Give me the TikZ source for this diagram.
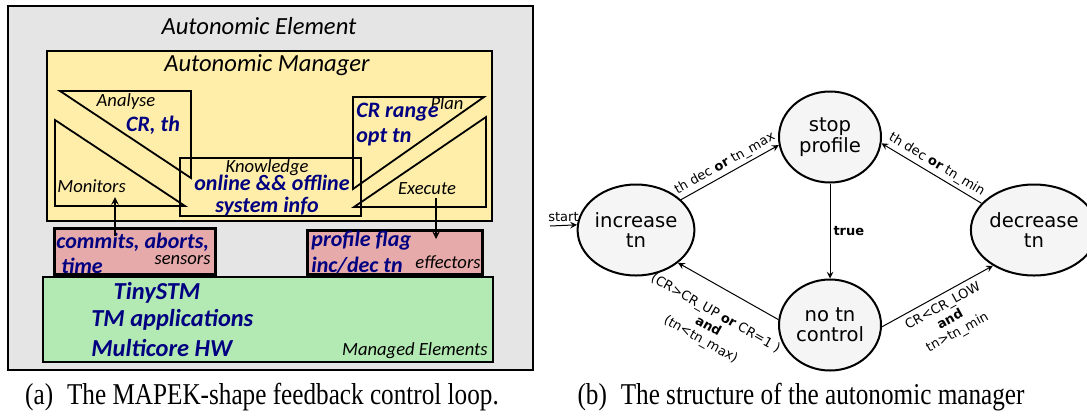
\documentclass[tikz,border=0pt]{standalone}
\usepackage{fontspec}
\setmainfont{Liberation Serif}
\newfontfamily\lfont{Carlito}
\newfontfamily\rfont{DejaVu Sans}
\usetikzlibrary{shapes.geometric,positioning}
\definecolor{elemgray}{HTML}{E5E5E5}
\definecolor{mgryellow}{HTML}{FFEEAA}
\definecolor{sensepink}{HTML}{E6AAAA}
\definecolor{mngdgreen}{HTML}{B3EAB3}
\definecolor{infoblue}{HTML}{000080}
\definecolor{stategray}{HTML}{F5F5F5}

\begin{document}
\begin{tikzpicture}[x=0.5pt,y=-0.5pt,>=stealth,
  box/.style={draw,line width=1pt},
  tri/.style={draw,line width=0.9pt},
  info/.style={font=\lfont\fontsize{11}{13}\selectfont\bfseries\itshape,text=infoblue,inner sep=0pt},
  big info/.style={info,font=\lfont\fontsize{12.2}{14}\selectfont\bfseries\itshape},
  tag/.style={font=\lfont\fontsize{9.3}{11}\selectfont\itshape,inner sep=0pt},
  title/.style={font=\lfont\fontsize{12.3}{14}\selectfont\itshape,inner sep=0pt},
  main node/.style={ellipse,draw,line width=1pt,fill=stategray,minimum width=51pt,minimum height=45.5pt,inner sep=0pt,align=center,font=\rfont\fontsize{9.8}{10.2}\selectfont},
  cond/.style={font=\rfont\fontsize{6.5}{7.5}\selectfont,align=center,inner sep=1.5pt},
  caption/.style={font=\fontsize{12.6}{14}\selectfont,inner sep=0pt}]
\useasboundingbox (0,0) rectangle (1087,419);

% (a) MAPEK loop
\draw[box,fill=elemgray] (8,6) rectangle (533,370);
\node[title] (ae) at (259,26) {Autonomic Element};
\draw[box,fill=mgryellow] (47,51) rectangle (492,221);
\node[title] (am) at (267,65) {Autonomic Manager};
\draw[line width=0.6pt] (180,158) rectangle (361,216);
\draw[tri] (60,91) -- (191,91) -- (191,178) -- cycle;
\draw[tri] (55,120) -- (55,206) -- (185,206) -- cycle;
\draw[tri] (484,97) -- (353,97) -- (353,189) -- cycle;
\draw[tri] (486,117) -- (486,207) -- (354,207) -- cycle;
\node[tag] (an) at (126,102) {Analyse};
\node[info] (anv) at (153,125) {CR, th};
\node[tag] (pl) at (447,103) {Plan};
\node[info,anchor=west] (plv1) at (356,112) {CR range};
\node[info,anchor=west] (plv2) at (356,137) {opt tn};
\node[tag] (kn) at (267,168) {Knowledge};
\node[info] (knv1) at (272,183) {online \&\& offline};
\node[info] (knv2) at (267,207) {system info};
\node[tag,anchor=west] (mo) at (57,186) {Monitors};
\node[tag] (ex) at (427,189) {Execute};

\draw[box,line width=1.5pt,fill=sensepink] (54,228) rectangle (215,274);
\node[info,anchor=west] (sev1) at (56,242) {commits, aborts,};
\node[info,anchor=west] (sev2) at (61,266) {time};
\node[tag,anchor=east] (se) at (211,260) {sensors};
\draw[box,line width=1.5pt,fill=sensepink] (307,230) rectangle (482,274);
\node[info,anchor=west] (efv1) at (311,241) {profile flag};
\node[info,anchor=west] (efv2) at (311,265) {inc/dec tn};
\node[tag,anchor=east] (ef) at (481,262) {effectors};

\coordinate (mo in) at (115,197);
\coordinate (se out) at (115,236);
\coordinate (ex out) at (436,198);
\coordinate (ef in) at (436,239);
\draw[->,line width=0.7pt] (se out) -- (mo in);
\draw[->,line width=0.7pt] (ex out) -- (ef in);

\draw[box,fill=mngdgreen] (43,277) rectangle (493,362);
\node[big info] (me1) at (157,293) {TinySTM};
\node[big info,anchor=west] (me2) at (91,320) {TM applications};
\node[big info,anchor=west] (me3) at (91,348) {Multicore HW};
\node[tag,anchor=east] (me) at (488,351) {Managed Elements};

% (b) autonomic manager
\node[main node] (inc) at (636,230) {increase\\tn};
\node[main node] (stop) [on grid,above right=46.5pt and 97pt of inc] {stop\\profile};
\node[main node] (no) [on grid,below=94pt of stop] {no tn\\control};
\node[main node] (dec) [on grid,above right=47.5pt and 102pt of no] {decrease\\tn};
\coordinate (st) at (550,226);

\path[->,line width=0.5pt,every node/.style={cond}]
  (st) edge node[above] {start} (inc.175)
  (inc.34) edge node[above,sloped] {th dec \textbf{or} tn\_max} (stop.189)
  (dec.153) edge node[above,sloped] {th dec \textbf{or} tn\_min} (stop.-7)
  (stop) edge node[right] {\textbf{true}} (no)
  (no.174) edge node[below=8pt,sloped] {(CR>CR\_UP \textbf{or} CR=1 )\\\textbf{and}\\(tn<tn\_max)} (inc.-38)
  (no.-2) edge node[below=1pt,sloped] {CR<CR\_LOW\\\textbf{and}\\tn>tn\_min} (dec.221);

\node[caption] (capa) at (262,397) {\scalebox{1}[1.2]{(a)\hspace{0.55em}The MAPEK-shape feedback control loop.}};
\node[caption] (capb) at (801,397) {\scalebox{1}[1.2]{(b)\hspace{0.55em}The structure of the autonomic manager}};
\end{tikzpicture}
\end{document}
